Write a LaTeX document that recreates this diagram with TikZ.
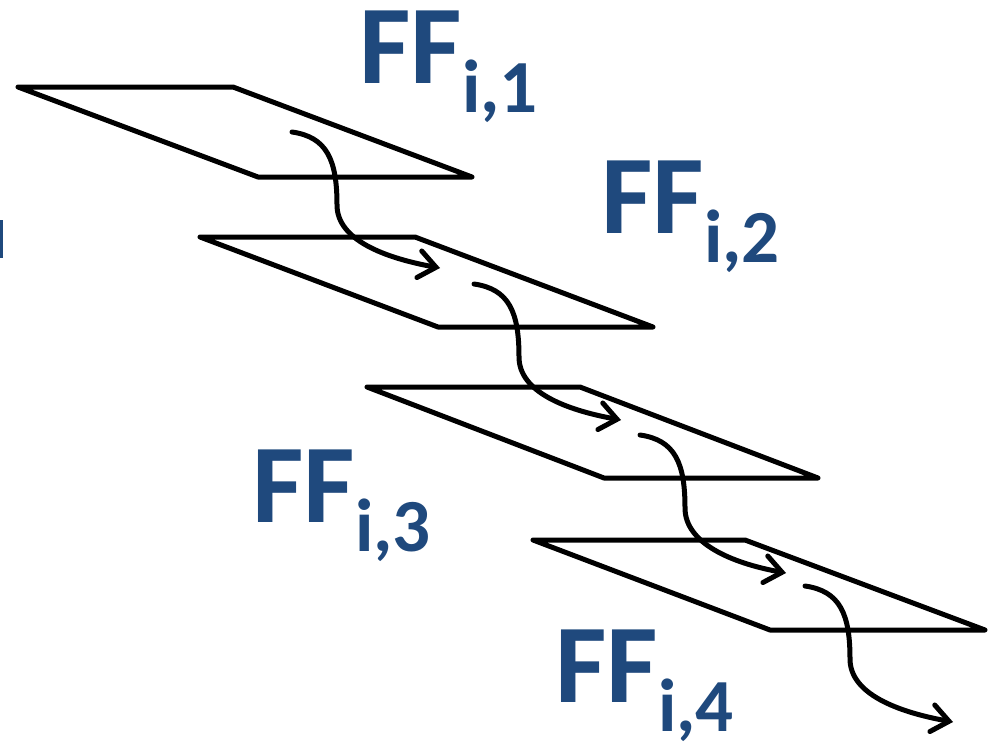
\documentclass[tikz,border=0pt]{standalone}
\usepackage{fontspec}
\setmainfont{Carlito}
\usepackage{tikz}
\usetikzlibrary{arrows.meta}
\definecolor{ffblue}{HTML}{1F497D}
\newcommand{\ffname}[1]{\fontsize{112}{112}\selectfont FF\raisebox{-29pt}{\fontsize{75}{75}\selectfont i,#1}}

\begin{document}
\begin{tikzpicture}[
  x=1pt, y=-1pt,
  plane/.style={draw=black, line width=5pt, line join=round},
  flow/.style={draw=black, line width=5pt, line cap=round,
               -{Straight Barb[length=17pt, width=27pt, line cap=round]}},
  fflbl/.style={anchor=base west, inner sep=0pt, text=ffblue, font=\bfseries},
]
\useasboundingbox (0,0) rectangle (992,744);

%% -- planes -------------------------------------------------------------------
\draw[plane] (18,87)  -- (233,87)  -- (472,177) -- (258,177) -- cycle;
\draw[plane] (200,237) -- (415,237) -- (653,327) -- (438,327) -- cycle;
\draw[plane] (367,387) -- (580,387) -- (818,478) -- (604,478) -- cycle;
\draw[plane] (533,540) -- (745,540) -- (985,630) -- (770,630) -- cycle;

%% -- labels -------------------------------------------------------------------
\node[fflbl] (ff1) at (359,83)  {\ffname{1}};
\node[fflbl] (ff2) at (601,233) {\ffname{2}};
\node[fflbl] (ff3) at (252,522) {\ffname{3}};
\node[fflbl] (ff4) at (555,702) {\ffname{4}};

% cut-off text at the left edge
\fill[ffblue] (0,220) rectangle (2.5,258);

%% -- flow arrows --------------------------------------------------------------
\coordinate (s1) at (292,132); \coordinate (m1) at (337,205); \coordinate (e1) at (440,268);
\coordinate (s2) at (474,284); \coordinate (m2) at (519,357); \coordinate (e2) at (621,420);
\coordinate (s3) at (640,435); \coordinate (m3) at (685,508); \coordinate (e3) at (786,573);
\coordinate (s4) at (805,586); \coordinate (m4) at (850,659); \coordinate (e4) at (953,722);

\draw[flow] (s1) .. controls +(35,5) and +(0,-45) .. (m1) .. controls +(0,35) and +(-55,-10) .. (e1);
\draw[flow] (s2) .. controls +(35,5) and +(0,-45) .. (m2) .. controls +(0,35) and +(-55,-10) .. (e2);
\draw[flow] (s3) .. controls +(35,5) and +(0,-45) .. (m3) .. controls +(0,35) and +(-55,-10) .. (e3);
\draw[flow] (s4) .. controls +(35,5) and +(0,-45) .. (m4) .. controls +(0,35) and +(-55,-10) .. (e4);

\end{tikzpicture}
\end{document}
